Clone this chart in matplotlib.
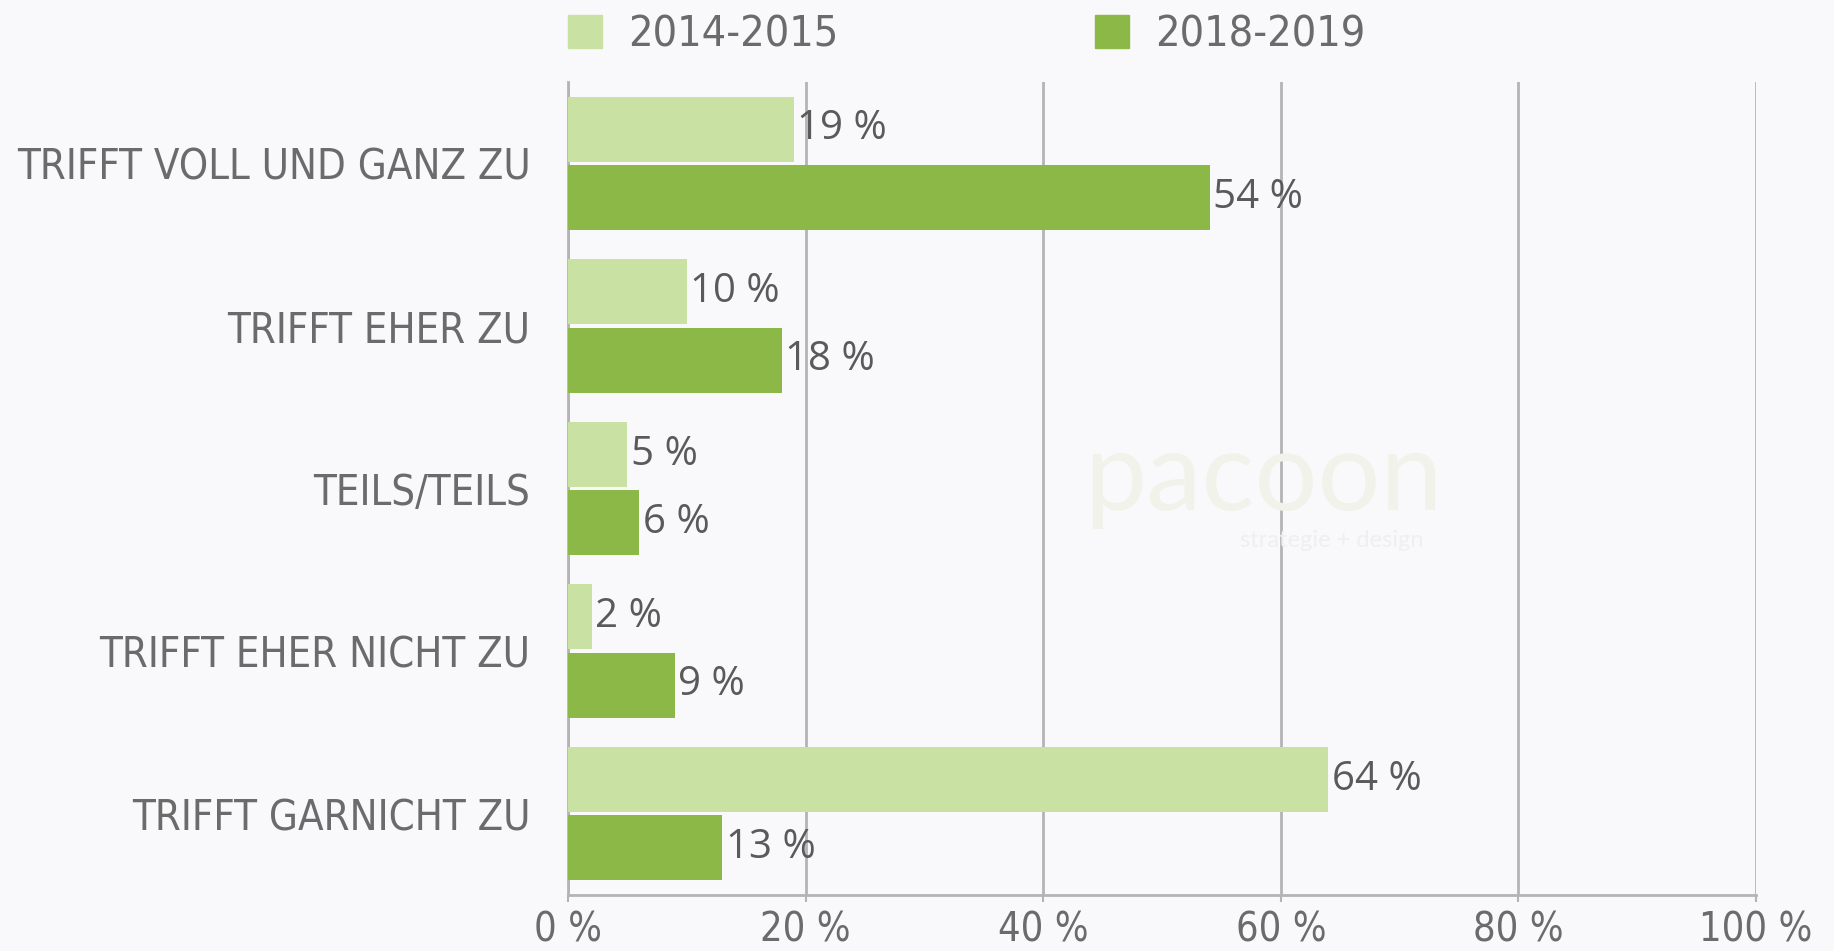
import numpy as np
import matplotlib.pyplot as plt
from matplotlib.patches import Patch

categories = ["TRIFFT VOLL UND GANZ ZU", "TRIFFT EHER ZU", "TEILS/TEILS",
              "TRIFFT EHER NICHT ZU", "TRIFFT GARNICHT ZU"]
series_names = ["2014-2015", "2018-2019"]
values_2014 = [19, 10, 5, 2, 64]
values_2018 = [54, 18, 6, 9, 13]
x_ticks = [0, 20, 40, 60, 80, 100]
x_tick_labels = ["0 %", "20 %", "40 %", "60 %", "80 %", "100 %"]

LIGHT = "#c9e2a4"
DARK = "#8bb847"
TEXT = "#6b6b6b"
BG = "#f9f9fb"
GRID = "#b4b4b4"

plt.rcParams["font.family"] = ["DejaVu Sans"]
plt.rcParams["font.stretch"] = "condensed"

fig = plt.figure(figsize=(18.34, 9.51), dpi=100, facecolor=BG)
ax = fig.add_axes([0.3097, 0.0589, 0.6478, 0.8549], facecolor=BG)

# faint watermark
fig.text(0.689, 0.496, "pacoon", fontsize=80, color="#f1f3ea", ha="center",
         va="center", family="Lato", stretch="normal", zorder=0)
fig.text(0.726, 0.432, "strategie + design", fontsize=17, color="#eeefee",
         ha="center", va="center", family="Lato", stretch="normal", zorder=0)

y = np.arange(len(categories))
h = 0.40
off = 0.21
b1 = ax.barh(y - off, values_2014, height=h, color=LIGHT, zorder=3)
b2 = ax.barh(y + off, values_2018, height=h, color=DARK, zorder=3)

for bars, vals in [(b1, values_2014), (b2, values_2018)]:
    for bar, v in zip(bars, vals):
        ax.text(bar.get_width() + 0.3, bar.get_y() + bar.get_height() / 2,
                f"{v} %", va="center", ha="left", fontsize=29, color="#5a5a5a",
                family=["Open Sans", "DejaVu Sans"], stretch="normal", zorder=4)

ax.set_xlim(0, 100)
ax.set_ylim(4.5, -0.5)
ax.set_xticks(x_ticks)
ax.set_xticklabels(x_tick_labels)
ax.set_yticks(y)
ax.set_yticklabels(categories)
ax.xaxis.grid(True, color=GRID, linewidth=2, zorder=0)

for s in ["top", "right"]:
    ax.spines[s].set_visible(False)
ax.spines["left"].set_color(GRID)
ax.spines["left"].set_linewidth(2)
ax.spines["bottom"].set_color(GRID)
ax.spines["bottom"].set_linewidth(2)

ax.tick_params(axis="y", length=0, pad=27, labelsize=30, labelcolor=TEXT)
ax.tick_params(axis="x", length=5, width=1.5, color=GRID, pad=6,
               labelsize=28.5, labelcolor=TEXT)

handles = [Patch(color=LIGHT), Patch(color=DARK)]
leg = ax.legend(handles, series_names, loc="center left", ncol=2,
                bbox_to_anchor=(0.0, 1.058), frameon=False, fontsize=31,
                handlelength=0.8, handleheight=0.8, handletextpad=0.6,
                columnspacing=5.95, borderaxespad=0, borderpad=0)
for t in leg.get_texts():
    t.set_color(TEXT)

fig.savefig("out.png", dpi=100, facecolor=BG)
